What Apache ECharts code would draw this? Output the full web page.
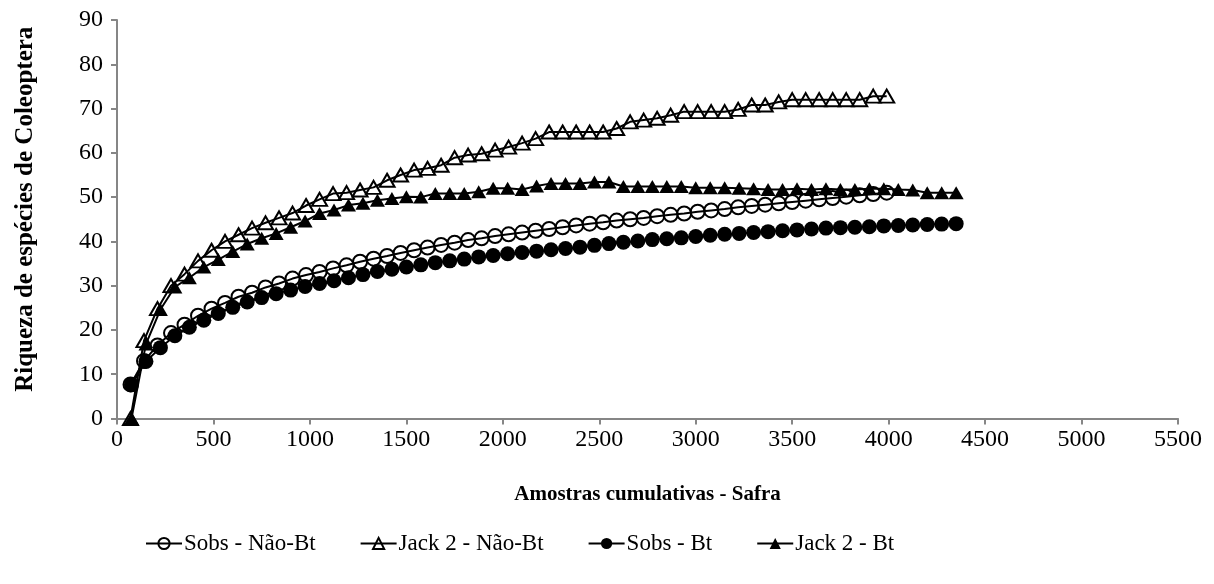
<!DOCTYPE html>
<html>
<head>
<meta charset="utf-8">
<script src="https://cdn.jsdelivr.net/npm/echarts@6/dist/echarts.min.js"></script>
<style>
  html, body { margin: 0; padding: 0; background: #fff; }
  #chart { width: 1214px; height: 584px; }
</style>
</head>
<body>
<div id="chart"></div>
<script>
// Cumulative samples (x) for each treatment
const xNaoBt = [70,140,210,280,350,420,490,560,630,700,770,840,910,980,1050,1120,1190,1260,1330,1400,1470,1540,1610,1680,1750,1820,1890,1960,2030,2100,2170,2240,2310,2380,2450,2520,2590,2660,2730,2800,2870,2940,3010,3080,3150,3220,3290,3360,3430,3500,3570,3640,3710,3780,3850,3920,3990];
const xBt = [75,150,225,300,375,450,525,600,675,750,825,900,975,1050,1125,1200,1275,1350,1425,1500,1575,1650,1725,1800,1875,1950,2025,2100,2175,2250,2325,2400,2475,2550,2625,2700,2775,2850,2925,3000,3075,3150,3225,3300,3375,3450,3525,3600,3675,3750,3825,3900,3975,4050,4125,4200,4275,4350];

// Species richness estimates
const sobsNaoBt = [7.7,13.0,16.5,19.3,21.2,23.2,24.8,26.1,27.5,28.4,29.6,30.5,31.6,32.4,33.1,33.9,34.6,35.4,36.1,36.7,37.4,38.0,38.6,39.2,39.7,40.3,40.7,41.2,41.6,42.0,42.4,42.8,43.2,43.6,44.0,44.3,44.7,45.0,45.3,45.7,46.0,46.3,46.7,47.0,47.3,47.7,48.0,48.3,48.6,48.9,49.2,49.5,49.8,50.1,50.4,50.7,51.0];
const jack2NaoBt = [0,17.6,24.8,30.0,32.6,35.6,38.0,40.0,41.5,43.0,44.2,45.3,46.4,48.1,49.5,50.8,51.0,51.6,52.2,53.8,55.0,56.1,56.5,57.2,58.9,59.5,59.8,60.6,61.3,62.2,63.2,64.7,64.7,64.7,64.7,64.7,65.5,67.0,67.4,67.8,68.5,69.3,69.3,69.3,69.3,69.8,70.8,70.8,71.5,72.0,72.0,72.0,72.0,72.0,72.0,72.8,72.8];
const sobsBt = [7.6,12.9,16.0,18.7,20.6,22.2,23.7,25.1,26.3,27.3,28.2,29.0,29.8,30.5,31.1,31.8,32.5,33.2,33.7,34.2,34.7,35.2,35.6,36.0,36.5,36.8,37.2,37.5,37.8,38.1,38.4,38.7,39.1,39.5,39.8,40.1,40.4,40.6,40.8,41.1,41.4,41.6,41.8,42.0,42.2,42.4,42.6,42.8,43.0,43.1,43.2,43.3,43.5,43.6,43.7,43.8,43.9,44.0];
const jack2Bt = [0,16.8,24.6,29.7,31.8,34.2,35.9,37.7,39.4,40.7,41.8,43.2,44.6,46.3,47.1,48.2,48.6,49.3,49.7,50.1,50.0,50.8,50.8,50.8,51.2,52.0,52.0,51.7,52.5,53.1,53.1,53.1,53.4,53.4,52.4,52.4,52.4,52.4,52.4,52.1,52.1,52.1,52.0,51.9,51.7,51.7,51.9,51.7,51.9,51.7,51.7,51.9,51.9,51.7,51.6,51.0,51.0,51.0];

const seriesNames = ['Sobs - Não-Bt', 'Jack 2 - Não-Bt', 'Sobs - Bt', 'Jack 2 - Bt'];
const xTitle = 'Amostras cumulativas - Safra';
const yTitle = 'Riqueza de espécies de Coleoptera';

const FONT = '"Liberation Serif", "Times New Roman", serif';

function pairs(xs, ys) {
  return xs.map((x, i) => [x, ys[i]]);
}

function makeSeries(name, xs, ys, symbol, filled, size) {
  return {
    name: name,
    type: 'line',
    data: pairs(xs, ys),
    symbol: symbol,
    symbolSize: size,
    showAllSymbol: true,
    smooth: false,
    lineStyle: { color: '#000', width: 2 },
    itemStyle: {
      color: filled ? '#000' : 'rgba(255,255,255,0)',
      borderColor: '#000',
      borderWidth: filled ? 0 : 2
    },
    emphasis: { disabled: true },
    animation: false
  };
}

const chart = echarts.init(document.getElementById('chart'), null, { renderer: 'canvas' });

chart.setOption({
  backgroundColor: '#fff',
  animation: false,
  grid: { left: 117, top: 20, width: 1061, height: 398.5, containLabel: false },
  xAxis: {
    type: 'value',
    min: 0, max: 5500, interval: 500,
    name: xTitle,
    nameLocation: 'middle',
    nameGap: 66,
    nameTextStyle: { fontFamily: FONT, fontSize: 21, fontWeight: 'bold', color: '#000' },
    axisLine: { show: true, lineStyle: { color: '#868686', width: 2 } },
    axisTick: { show: true, length: 6, lineStyle: { color: '#868686', width: 2 } },
    axisLabel: { fontFamily: FONT, fontSize: 24, color: '#000', margin: 9, formatter: v => String(v) },
    splitLine: { show: false }
  },
  yAxis: {
    type: 'value',
    min: 0, max: 90, interval: 10,
    name: yTitle,
    nameLocation: 'middle',
    nameGap: 79,
    nameRotate: 90,
    nameTextStyle: { fontFamily: FONT, fontSize: 25, fontWeight: 'bold', color: '#000', padding: [0, 0, 0, 20] },
    axisLine: { show: true, lineStyle: { color: '#868686', width: 2 } },
    axisTick: { show: true, length: 6, lineStyle: { color: '#868686', width: 2 } },
    axisLabel: { fontFamily: FONT, fontSize: 24, color: '#000', margin: 14 },
    splitLine: { show: false }
  },
  legend: {
    data: seriesNames,
    left: 140,
    top: 527,
    itemWidth: 36,
    itemHeight: 14,
    itemGap: 44,
    textStyle: { fontFamily: FONT, fontSize: 23, color: '#000', padding: [0, 0, 0, -3] }
  },
  series: [
    makeSeries(seriesNames[0], xNaoBt, sobsNaoBt, 'circle', false, 14),
    makeSeries(seriesNames[1], xNaoBt, jack2NaoBt, 'triangle', false, [15, 13]),
    makeSeries(seriesNames[2], xBt, sobsBt, 'circle', true, 15),
    makeSeries(seriesNames[3], xBt, jack2Bt, 'triangle', true, [15, 13])
  ]
});
</script>
</body>
</html>
